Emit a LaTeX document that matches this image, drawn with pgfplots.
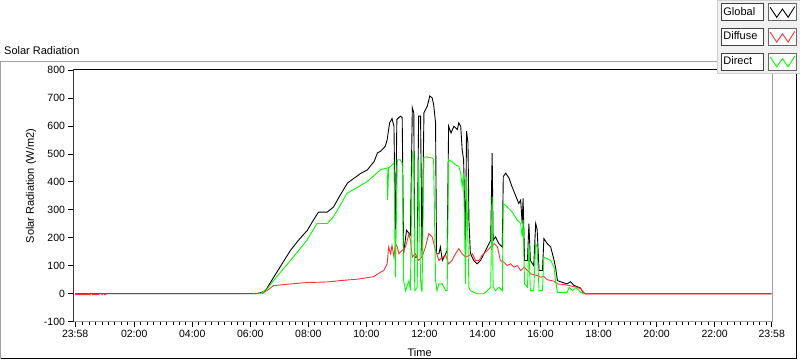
\documentclass[border=0pt]{standalone}
\usepackage{pgfplots}
\pgfplotsset{compat=1.18}
\usepackage{pgfplotstable}
\usepackage{fontspec}
\setmainfont{Liberation Sans}
\definecolor{diffred}{RGB}{255,51,51}
\definecolor{dirgreen}{RGB}{0,255,0}
\definecolor{framegray}{RGB}{160,160,160}
\definecolor{panelgray}{RGB}{240,240,240}

\pgfplotstableread{
m v
-2 0
370 0
380 3
391 10
408 58
425 105
443 155
460 192
478 227
490 262
501 292
510 292
519 292
532 310
545 350
561 396
588 430
602 443
616 473
623 504
629 509
639 527
643 551
648 611
653 626
657 599
660 203
663 623
670 635
674 630
677 144
683 227
688 216
691 210
695 665
698 647
700 131
705 131
708 635
712 635
715 131
719 647
726 671
731 707
736 700
739 677
743 611
745 143
750 143
753 167
757 119
764 143
767 155
770 599
775 575
781 599
788 587
791 611
795 599
798 515
801 479
805 167
807 581
810 540
812 263
815 143
822 119
829 107
836 119
843 143
850 167
857 191
860 503
862 191
867 203
874 179
881 167
883 419
888 431
895 413
901 383
908 353
915 323
919 335
922 251
924 341
927 119
933 119
936 251
939 119
946 100
950 251
953 230
957 83
964 83
967 197
974 179
981 167
988 120
991 95
995 47
1001 43
1015 35
1022 43
1029 30
1043 20
1049 0
1438 0
}\globaldata

\pgfplotstableread{
m v
-2 -3
30 -3
31 nan
33 -3
48 -3
49 nan
52 -3
55 -3
56 nan
58 -3
62 -3
63 nan
385 0
388 5
395 12
408 29
443 35
477 40
519 42
546 47
581 52
615 61
629 77
636 83
643 107
646 167
650 143
653 173
657 131
660 179
664 167
667 143
674 155
681 167
688 215
691 191
695 131
701 143
708 119
715 131
722 167
729 215
736 203
743 155
750 119
757 131
764 137
770 107
777 119
784 143
791 161
798 143
805 131
812 137
819 143
826 119
833 119
839 137
850 155
857 167
864 179
871 167
877 119
884 113
891 101
898 107
905 95
912 101
919 83
926 95
933 83
940 71
946 68
953 65
960 59
967 62
974 50
988 45
995 35
1008 33
1022 28
1036 23
1043 17
1053 -1
1438 -1
}\diffusedata

\pgfplotstableread{
m v
366 0
381 0
395 18
408 47
443 119
477 191
498 251
519 251
532 275
560 359
601 400
629 443
643 450
644 335
646 450
650 455
657 467
660 59
664 479
670 479
674 467
677 47
681 11
688 47
691 11
695 509
698 479
700 11
705 23
708 479
712 47
715 5
719 489
726 489
736 485
739 479
743 47
746 11
750 35
757 35
764 11
767 11
770 479
777 473
784 461
791 455
795 431
798 383
801 431
805 35
807 419
812 23
815 11
822 5
829 0
843 0
850 11
857 23
860 347
862 23
867 11
874 23
881 11
883 323
891 311
901 293
912 263
919 251
922 203
924 263
927 35
933 23
936 179
939 11
946 11
950 179
953 167
957 11
964 11
967 131
981 119
988 95
991 47
995 5
1015 5
1019 23
1026 11
1033 23
1043 5
1050 0
}\directdata

\begin{document}
\begin{tikzpicture}[x=1pt,y=1pt]
\useasboundingbox (0,0) rectangle (800,361);
% outer panel frame
\draw[framegray, line width=1pt] (0.7,2) -- (0.7,299.5) -- (717,299.5);
\draw[black, line width=1pt] (0.7,2) -- (796.7,2) -- (796.7,289);
\node[anchor=base west, font=\fontsize{11}{13}\selectfont, inner sep=0pt] at (4,306) {Solar Radiation};
\begin{axis}[
  at={(73.5pt,39.3pt)}, anchor=south west,
  width=699.2pt, height=251.7pt, scale only axis,
  xmin=-5.5, xmax=1440, ymin=-100, ymax=800,
  xtick={-2,120,240,360,480,600,720,840,960,1080,1200,1320,1438},
  xticklabels={23:58,02:00,04:00,06:00,08:00,10:00,12:00,14:00,16:00,18:00,20:00,22:00,23:58},
  minor xtick={13.333,26.667,...,1430},
  ytick={-100,0,100,200,300,400,500,600,700,800},
  tick align=outside,
  xtick pos=bottom, ytick pos=left,
  major tick length=5pt, minor tick length=3pt,
  tick style={black, line width=0.8pt},
  axis line style={framegray, line width=1pt},
  ticklabel style={font=\fontsize{10.5}{12}\selectfont},
  /pgf/number format/assume math mode=true,
  xlabel={Time}, ylabel={Solar Radiation (W/m2)},
  label style={font=\fontsize{11}{13}\selectfont},
  xlabel style={at={(axis description cs:0.495,-0.1244)}, anchor=center},
  ylabel style={at={(axis description cs:-0.0608,0.539)}, anchor=center},
  unbounded coords=jump,
  legend style={at={(axis description cs:0.9208,1.2781)}, anchor=north west,
    fill=panelgray, draw=framegray!50, inner xsep=3.7pt, inner ysep=2.7pt,
    row sep=6.7pt, column sep=4.4pt, font=\fontsize{11}{13}\selectfont,
    nodes={draw=black!75, fill=white, inner sep=2pt, text width=38pt, minimum height=17.3pt, align=left}},
  legend cell align=left,
  legend plot pos=right,
  legend image code/.code={
    \draw[black!60, fill=white, line width=0.8pt] (0pt,-8.65pt) rectangle (28.3pt,8.65pt);
    \draw[#1] (1.7pt,4.65pt) -- (8.3pt,-5.35pt) -- (14pt,2.95pt) -- (19.7pt,-5.35pt) -- (26.3pt,5.35pt);
  },
]
\addplot[black, line width=0.9pt] table[x=m, y=v] {\globaldata};
\addlegendentry{Global}
\addplot[diffred, line width=0.9pt] table[x=m, y=v] {\diffusedata};
\addlegendentry{Diffuse}
\addplot[dirgreen, line width=0.9pt] table[x=m, y=v] {\directdata};
\addlegendentry{Direct}
\draw[black, line width=1pt] (rel axis cs:0,0) -- (rel axis cs:0,1) -- (rel axis cs:1,1);
\end{axis}
\end{tikzpicture}
\end{document}
